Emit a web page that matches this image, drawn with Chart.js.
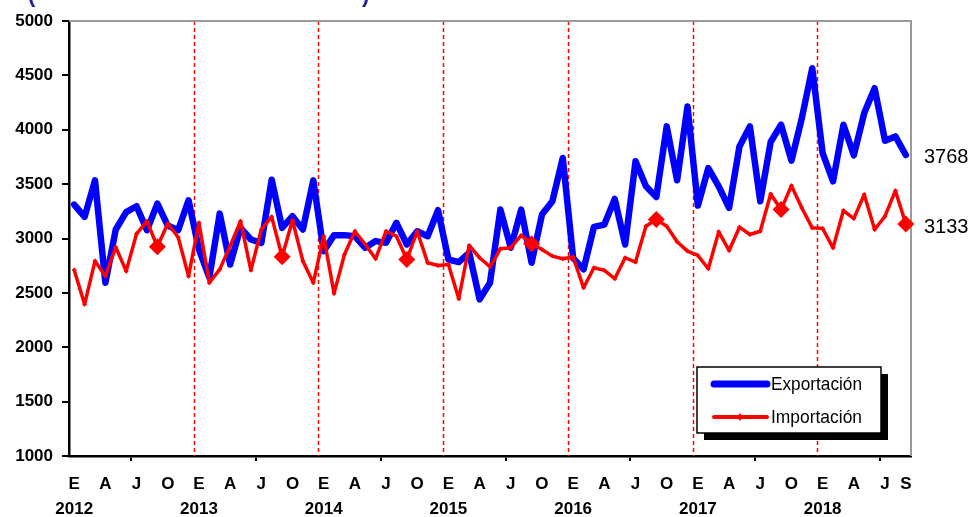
<!DOCTYPE html>
<html>
<head>
<meta charset="utf-8">
<script src="https://cdn.jsdelivr.net/npm/chart.js@4.4.1/dist/chart.umd.min.js"></script>
<style>
  html, body { margin: 0; padding: 0; background: #fff; }
  #wrap { width: 976px; height: 517px; }
</style>
</head>
<body>
<div id="wrap"><canvas id="tradeChart"></canvas></div>
<script>
// monthly values, Jan 2012 .. Sep 2018
var years = ['2012', '2013', '2014', '2015', '2016', '2017', '2018'];
var monthLetters = ['E', 'F', 'M', 'A', 'M', 'J', 'J', 'A', 'S', 'O', 'N', 'D'];
var labeledMonths = [0, 3, 6, 9];
var yTicks = [1000, 1500, 2000, 2500, 3000, 3500, 4000, 4500, 5000];

var exportacion = [
  3312, 3199, 3535, 2593, 3083, 3242, 3297, 3076, 3321, 3119, 3076, 3352,
  2900, 2640, 3229, 2761, 3098, 2991, 2960, 3541, 3098, 3205, 3083, 3535,
  2884, 3031, 3031, 3021, 2915, 2976, 2960, 3144, 2945, 3067, 3021, 3260,
  2807, 2783, 2869, 2440, 2593, 3266, 2915, 3266, 2777, 3220, 3343, 3740,
  2820, 2716, 3107, 3128, 3364, 2945, 3710, 3480, 3382, 4031, 3535, 4214,
  3303, 3648, 3480, 3281, 3847, 4031, 3342, 3887, 4046, 3716, 4107, 4566,
  3786, 3526, 4046, 3765, 4153, 4382, 3899, 3939, 3768
];
var importacion = [
  2710, 2395, 2792, 2654, 2920, 2700, 3043, 3159, 2924, 3138, 3012, 2654,
  3144, 2593, 2716, 2930, 3159, 2707, 3083, 3199, 2832, 3168, 2792, 2593,
  3021, 2495, 2853, 3067, 2945, 2814, 3067, 3021, 2807, 3067, 2777, 2752,
  2761, 2446, 2936, 2823, 2740, 2905, 2915, 3028, 2951, 2899, 2838, 2814,
  2829, 2547, 2731, 2707, 2630, 2823, 2783, 3113, 3174, 3113, 2970, 2884,
  2844, 2722, 3061, 2890, 3104, 3037, 3067, 3410, 3266, 3486, 3281, 3098,
  3092, 2914, 3257, 3183, 3404, 3083, 3205, 3440, 3133
];

var markedMonth = 8; // september gets the big diamond

var labels = [];
for (var i = 0; i < exportacion.length; i++) {
  labels.push(years[Math.floor(i / 12)] + '-' + (i % 12 + 1));
}

var decor = {
  id: 'decor',
  beforeDatasetsDraw: function (chart) {
    var ctx = chart.ctx, x = chart.scales.x, a = chart.chartArea;
    ctx.save();
    // year separators
    ctx.strokeStyle = '#ff0000';
    ctx.lineWidth = 1.5;
    ctx.setLineDash([4, 3]);
    for (var i = 12; i < labels.length; i += 12) {
      var px = Math.round((x.getPixelForValue(i - 1) + x.getPixelForValue(i)) / 2) + 0.5;
      ctx.beginPath();
      ctx.moveTo(px, a.top);
      ctx.lineTo(px, a.bottom);
      ctx.stroke();
    }
    ctx.setLineDash([]);
    // plot frame top / right
    ctx.strokeStyle = '#9a9a9a';
    ctx.lineWidth = 2;
    ctx.beginPath();
    ctx.moveTo(a.left, a.top);
    ctx.lineTo(a.right, a.top);
    ctx.lineTo(a.right, a.bottom);
    ctx.stroke();
    ctx.restore();
  },
  afterDraw: function (chart) {
    var ctx = chart.ctx, y = chart.scales.y;
    ctx.save();

    // cut-off title brackets at the very top
    ctx.fillStyle = '#1f1f99';
    ctx.font = 'bold 22px "Liberation Sans", Arial, sans-serif';
    ctx.textBaseline = 'alphabetic';
    ctx.fillText('(', 28, 2);
    ctx.fillText(')', 362, 2);

    // last values
    ctx.fillStyle = '#000';
    ctx.font = '20px "Liberation Sans", Arial, sans-serif';
    ctx.textBaseline = 'middle';
    ctx.textAlign = 'left';
    ctx.fillText(String(exportacion[exportacion.length - 1]), 924, y.getPixelForValue(exportacion[exportacion.length - 1]) + 3);
    ctx.fillText(String(importacion[importacion.length - 1]), 924, y.getPixelForValue(importacion[importacion.length - 1]) + 3);

    // legend box with shadow
    var bx = 697, by = 367, bw = 184, bh = 66;
    ctx.fillStyle = '#000';
    ctx.fillRect(bx + 7, by + 7, bw, bh);
    ctx.fillStyle = '#fff';
    ctx.fillRect(bx, by, bw, bh);
    ctx.strokeStyle = '#000';
    ctx.lineWidth = 1.5;
    ctx.strokeRect(bx, by, bw, bh);

    ctx.lineCap = 'round';
    ctx.strokeStyle = '#0000ff';
    ctx.lineWidth = 7;
    ctx.beginPath(); ctx.moveTo(714, 384); ctx.lineTo(767, 384); ctx.stroke();
    ctx.strokeStyle = '#ff0000';
    ctx.lineWidth = 4;
    ctx.beginPath(); ctx.moveTo(714, 417); ctx.lineTo(767, 417); ctx.stroke();
    ctx.fillStyle = '#ff0000';
    ctx.beginPath();
    ctx.moveTo(740, 413); ctx.lineTo(743, 417); ctx.lineTo(740, 421); ctx.lineTo(737, 417);
    ctx.fill();

    ctx.fillStyle = '#000';
    ctx.font = '19px "Liberation Sans", Arial, sans-serif';
    ctx.fillText('Exportación', 771, 385, 91);
    ctx.fillText('Importación', 771, 418, 91);
    ctx.restore();
  }
};

var ctx = document.getElementById('tradeChart').getContext('2d');
var tradeChart = new Chart(ctx, {
  type: 'line',
  data: {
    labels: labels,
    datasets: [{
      label: 'Importación',
      data: importacion,
      borderColor: '#ff0000',
      backgroundColor: '#ff0000',
      borderWidth: 3.5,
      borderJoinStyle: 'round',
      pointStyle: 'rectRot',
      pointRadius: function (c) { return c.dataIndex % 12 === markedMonth ? 8.5 : 2.5; },
      pointBorderWidth: 0,
      pointBackgroundColor: '#ff0000',
      tension: 0,
      order: 0
    }, {
      label: 'Exportación',
      data: exportacion,
      borderColor: '#0000ff',
      backgroundColor: '#0000ff',
      borderWidth: 6.5,
      borderJoinStyle: 'round',
      borderCapStyle: 'round',
      pointRadius: 0,
      tension: 0,
      order: 1
    }]
  },
  options: {
    responsive: true,
    maintainAspectRatio: false,
    animation: false,
    layout: { padding: { top: 21, right: 65, left: 0, bottom: 0 } },
    plugins: {
      legend: { display: false },
      tooltip: { enabled: false },
      title: { display: false }
    },
    scales: {
      x: {
        type: 'category',
        offset: true,
        afterFit: function (s) { s.height = 61; },
        border: { color: '#000', width: 2.5 },
        grid: {
          drawOnChartArea: false,
          offset: true,
          tickLength: 5,
          lineWidth: 2,
          color: function (c) { return c.index % 12 === 6 ? '#000' : 'rgba(0,0,0,0)'; }
        },
        ticks: {
          autoSkip: false,
          maxRotation: 0,
          minRotation: 0,
          padding: 11,
          color: '#000',
          font: { family: '"Liberation Sans", Arial, sans-serif', size: 17, weight: 'bold', lineHeight: 1.45 },
          callback: function (v, i) {
            var m = i % 12;
            if (m === 0) return [monthLetters[m], years[Math.floor(i / 12)]];
            if (labeledMonths.indexOf(m) >= 0 || i === labels.length - 1) return monthLetters[m];
            return '';
          }
        }
      },
      y: {
        min: yTicks[0],
        max: yTicks[yTicks.length - 1],
        afterFit: function (s) { s.width = 69; },
        afterBuildTicks: function (s) { s.ticks = yTicks.map(function (v) { return { value: v }; }); },
        border: { color: '#000', width: 2.5 },
        grid: { drawOnChartArea: false, tickLength: 7, lineWidth: 2, color: '#000' },
        ticks: {
          padding: 9,
          color: '#000',
          font: { family: '"Liberation Sans", Arial, sans-serif', size: 17, weight: 'bold' },
          callback: function (v) { return String(v); }
        }
      }
    }
  },
  plugins: [decor]
});
</script>
</body>
</html>
